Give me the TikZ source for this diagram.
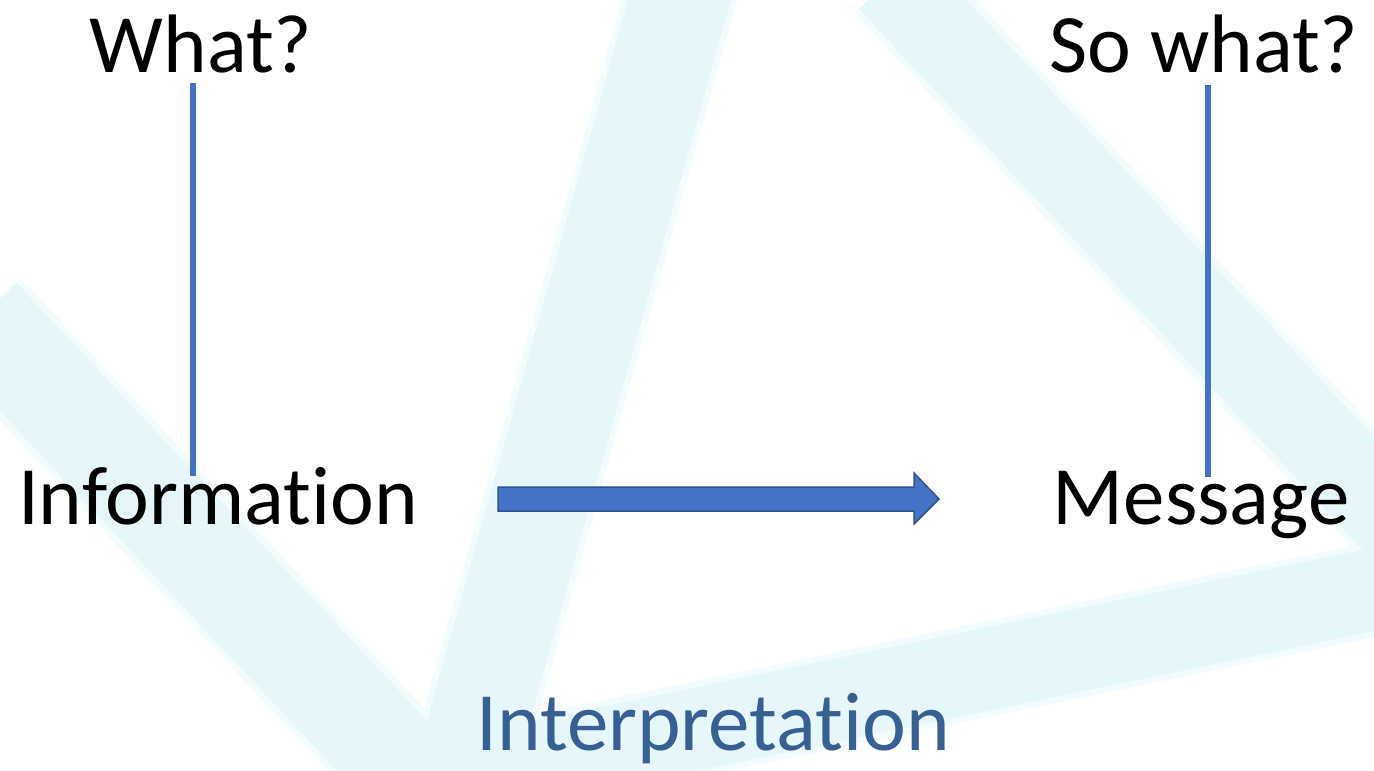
\documentclass[tikz,border=0pt]{standalone}
\usepackage{fontspec}
\setmainfont[Ligatures={NoCommon}]{Carlito}
\definecolor{lineblue}{RGB}{68,114,196}
\definecolor{arrowedge}{RGB}{47,82,143}
\definecolor{interp}{RGB}{54,96,146}
\definecolor{wm}{RGB}{230,247,251}
\definecolor{wmsoft}{RGB}{242,251,253}
\tikzset{
  label/.style={font=\fontsize{83}{100}\selectfont, anchor=base, inner sep=0pt, text=black},
  vline/.style={draw=lineblue, line width=6.5pt},
  band/.style={draw=wm, line cap=butt},
  bandsoft/.style={draw=wmsoft, line cap=butt},
  bigarrow/.style={fill=lineblue, draw=arrowedge, line width=1.5pt, line join=miter}
}
\begin{document}
\begin{tikzpicture}[x=1pt,y=-1pt]
\useasboundingbox (0,0) rectangle (1374,771);
\fill[white] (0,0) rectangle (1374,771);
\begin{scope}
\clip (0,0) rectangle (1374,771);
% watermark bands (soft halo)
\draw[bandsoft, line width=111pt] (685,-20) -- (462,780);
\draw[bandsoft, line width=112pt] (-20,317) -- (480,850);
\draw[bandsoft, line width=94pt] (420,786) -- (1400,584);
\draw[bandsoft, line width=97pt] (890,-20) -- (1400,527);
% watermark bands
\draw[band, line width=99pt] (685,-20) -- (462,780);
\draw[band, line width=100pt] (-20,317) -- (480,850);
\draw[band, line width=82pt] (420,786) -- (1400,584);
\draw[band, line width=85pt] (890,-20) -- (1400,527);
\end{scope}
% texts
\node[label] (what) at (201,72) {What?};
\node[label] (sowhat) at (1204,72) {So what?};
\node[label] (info) at (218,524) {Information};
\node[label] (msg) at (1201,524) {Message};
\node[label, text=interp] (interp) at (713,750) {Interpretation};
% connectors
\coordinate (whatbot) at (193,83);
\coordinate (infotop) at (193,476);
\coordinate (sowhatbot) at (1208,85);
\coordinate (msgtop) at (1208,477);
\draw[vline] (whatbot) -- (infotop);
\draw[vline] (sowhatbot) -- (msgtop);
% block arrow
\coordinate (a1) at (939,499);
\draw[bigarrow] (498,487) -- (914,487) -- (914,473) -- (a1) -- (914,524) -- (914,511) -- (498,511) -- cycle;
\end{tikzpicture}
\end{document}
